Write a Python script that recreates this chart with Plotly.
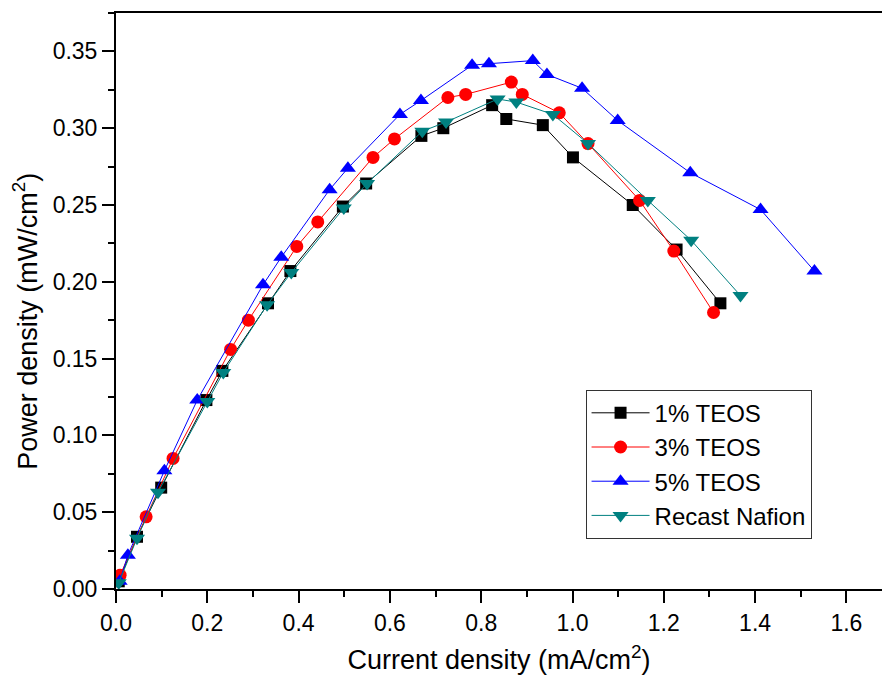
import plotly.graph_objects as go

# ---- data ----
x_1pct = [0.006, 0.046, 0.099, 0.198, 0.233, 0.333, 0.382, 0.497, 0.548, 0.669, 0.717, 0.824, 0.855, 0.935, 1.001, 1.132, 1.228, 1.324]
y_1pct = [0.005, 0.034, 0.066, 0.123, 0.142, 0.186, 0.207, 0.249, 0.264, 0.295, 0.300, 0.315, 0.306, 0.302, 0.281, 0.250, 0.221, 0.186]

x_3pct = [0.009, 0.066, 0.125, 0.251, 0.290, 0.396, 0.442, 0.563, 0.610, 0.727, 0.766, 0.866, 0.890, 0.971, 1.034, 1.147, 1.222, 1.309]
y_3pct = [0.009, 0.047, 0.085, 0.156, 0.175, 0.223, 0.239, 0.281, 0.293, 0.320, 0.322, 0.330, 0.322, 0.310, 0.290, 0.253, 0.220, 0.180]

x_5pct = [0.008, 0.026, 0.106, 0.178, 0.322, 0.362, 0.468, 0.508, 0.622, 0.668, 0.780, 0.817, 0.913, 0.944, 1.021, 1.099, 1.258, 1.412, 1.530]
y_5pct = [0.005, 0.022, 0.077, 0.123, 0.198, 0.216, 0.260, 0.274, 0.309, 0.318, 0.341, 0.342, 0.344, 0.335, 0.326, 0.305, 0.271, 0.247, 0.207]

x_nafion = [0.006, 0.046, 0.092, 0.200, 0.235, 0.331, 0.384, 0.499, 0.550, 0.671, 0.723, 0.836, 0.877, 0.957, 1.034, 1.165, 1.260, 1.368]
y_nafion = [0.004, 0.033, 0.063, 0.122, 0.141, 0.185, 0.206, 0.248, 0.264, 0.298, 0.304, 0.319, 0.317, 0.309, 0.290, 0.253, 0.227, 0.191]

series_names = ["1% TEOS", "3% TEOS", "5% TEOS", "Recast Nafion"]

x_ticks = [0.0, 0.2, 0.4, 0.6, 0.8, 1.0, 1.2, 1.4, 1.6]
y_ticks = [0.00, 0.05, 0.10, 0.15, 0.20, 0.25, 0.30, 0.35]

FONT = "Arial, 'Liberation Sans', sans-serif"

styles = [
    dict(color="#000000", symbol="square", size=12),
    dict(color="#FF0000", symbol="circle", size=13),
    dict(color="#0000FF", symbol="triangle-up", size=14),
    dict(color="#008080", symbol="triangle-down", size=14),
]
data = [(x_1pct, y_1pct), (x_3pct, y_3pct), (x_5pct, y_5pct), (x_nafion, y_nafion)]

fig = go.Figure()
for (xs, ys), name, st in zip(data, series_names, styles):
    fig.add_trace(go.Scatter(
        x=xs, y=ys, name=name, mode="lines+markers",
        line=dict(color=st["color"], width=1),
        marker=dict(color=st["color"], symbol=st["symbol"], size=st["size"], line=dict(width=0)),
    ))

fig.update_layout(
    width=882, height=678,
    margin=dict(l=116, r=0, t=13, b=89),
    plot_bgcolor="white", paper_bgcolor="white",
    font=dict(family=FONT, size=23, color="black"),
    showlegend=True,
    legend=dict(
        x=0.613, y=0.346, xanchor="left", yanchor="top",
        bordercolor="#333333", borderwidth=1, bgcolor="white",
        font=dict(family=FONT, size=24, color="black"),
        tracegroupgap=0, itemwidth=58,
    ),
    annotations=[dict(
        text="Power density (mW/cm<sup>2</sup>)", textangle=-90,
        xref="paper", yref="paper", x=-0.118, y=0.465,
        xanchor="center", yanchor="middle", showarrow=False,
        font=dict(family=FONT, size=27, color="black"),
    )],
)
fig.update_xaxes(
    range=[0, 1.678], tickvals=x_ticks, ticktext=[f"{v:.1f}" for v in x_ticks],
    showgrid=False, zeroline=False,
    showline=True, linecolor="black", linewidth=2, mirror=True,
    ticks="outside", ticklen=12, tickwidth=2, tickcolor="black",
    minor=dict(dtick=0.1, tick0=0, ticks="outside", ticklen=6, tickwidth=2, tickcolor="black", showgrid=False),
    tickfont=dict(size=23),
    title=dict(text="Current density (mA/cm<sup>2</sup>)", font=dict(size=27), standoff=16),
)
fig.update_yaxes(
    range=[0, 0.375], tickvals=y_ticks, ticktext=[f"{v:.2f}" for v in y_ticks],
    showgrid=False, zeroline=False,
    showline=True, linecolor="black", linewidth=2, mirror=False,
    ticks="outside", ticklen=12, tickwidth=2, tickcolor="black",
    minor=dict(dtick=0.025, tick0=0, ticks="outside", ticklen=6, tickwidth=2, tickcolor="black", showgrid=False),
    tickfont=dict(size=23),
)

fig.write_html("out.html")
